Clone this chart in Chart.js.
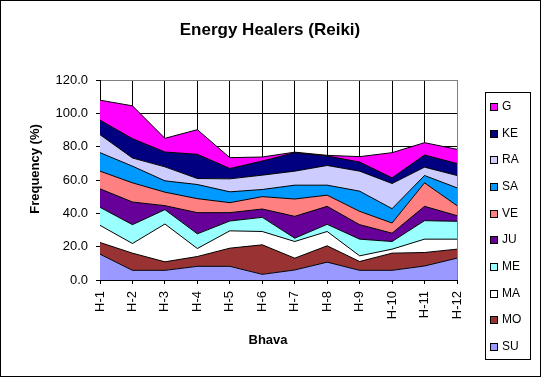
<!DOCTYPE html>
<html><head><meta charset="utf-8">
<script src="https://cdn.jsdelivr.net/npm/chart.js@4/dist/chart.umd.min.js"></script>
<style>html,body{margin:0;padding:0;background:#fff;overflow:hidden}</style>
</head><body><canvas id="c" width="542" height="378"></canvas>
<script>
const chartTitle = 'Energy Healers (Reiki)';
const xTitle = 'Bhava';
const yTitle = 'Frequency (%)';
const categories = ['H-1','H-2','H-3','H-4','H-5','H-6','H-7','H-8','H-9','H-10','H-11','H-12'];
const seriesNames = ['SU','MO','MA','ME','JU','VE','SA','RA','KE','G'];
const SU = [15.5, 5.8, 5.8, 8.2, 8.2, 3.4, 6.0,10.7, 5.8, 5.8, 8.4,13.1];
const MO = [ 7.0,10.3, 5.1, 5.9,10.9,17.7, 7.1, 9.8, 5.3,10.3, 8.1, 5.4];
const MA = [10.3, 5.8,22.7, 4.8,10.4, 8.0,10.0, 8.6, 3.4, 2.4, 8.0, 6.0];
const ME = [10.8,11.3, 8.6, 8.8, 5.9, 8.5, 2.0, 4.3,10.0, 4.6,11.1,10.7];
const JU = [11.1,13.6, 2.4,12.7, 5.0, 5.0,13.1,10.8, 8.7, 5.0, 8.6, 3.4];
const VE = [10.6,11.5, 8.1, 8.4, 6.0, 7.4,10.4, 6.7, 8.0, 6.1,14.1, 6.0];
const SA = [11.1,10.0, 6.8, 8.5, 6.5, 4.3, 8.3, 6.0,12.1, 8.6, 4.4,10.7];
const RA = [10.8, 4.9, 8.4, 3.6, 7.8, 8.6, 8.4,11.8,12.0,15.1, 5.0, 7.4];
const KE = [ 8.7,11.6, 8.9,14.5, 6.2, 8.5,11.1, 5.7, 5.5, 3.4, 7.3, 7.2];
const G  = [12.0,19.7, 8.2,14.8, 6.5, 2.4, 0.3, 0.4, 3.2,15.1, 7.4, 8.5];
const seriesValues = [SU, MO, MA, ME, JU, VE, SA, RA, KE, G];
const seriesColors = ['#9999FF','#993333','#FFFFFF','#99FFFF','#660099','#FF8080','#0099FF','#CCCCFF','#000080','#FF00FF'];
const yMin = 0, yMax = 120, yStep = 20;

const FONT = '"Liberation Sans", Arial, sans-serif';

const datasets = seriesNames.map((n, i) => ({
  label: n,
  data: seriesValues[i],
  backgroundColor: seriesColors[i],
  borderColor: '#000',
  borderWidth: 1,
  fill: i === 0 ? 'origin' : '-1',
  pointRadius: 0,
  pointHoverRadius: 0,
  tension: 0
}));

const decor = {
  id: 'decor',
  afterDraw(chart) {
    const ctx = chart.ctx;
    ctx.save();
    ctx.strokeStyle = '#000';
    ctx.lineWidth = 1;
    ctx.strokeRect(0.5, 0.5, 540, 376);
    ctx.fillStyle = '#000';
    ctx.textAlign = 'center';
    ctx.textBaseline = 'middle';
    ctx.font = 'bold 17px ' + FONT;
    ctx.fillText(chartTitle, 270, 30);
    ctx.font = 'bold 13px ' + FONT;
    ctx.fillText(xTitle, 268, 340);
    ctx.save();
    ctx.translate(35, 169);
    ctx.rotate(-Math.PI / 2);
    ctx.fillText(yTitle, 0, 0);
    ctx.restore();
    // legend
    const lx = 485, ly = 92, lw = 45, lh = 267;
    ctx.fillStyle = '#fff';
    ctx.fillRect(lx, ly, lw, lh);
    ctx.strokeStyle = '#000';
    ctx.strokeRect(lx + 0.5, ly + 0.5, lw, lh);
    ctx.font = '12px ' + FONT;
    ctx.textAlign = 'left';
    const ds = chart.data.datasets.slice().reverse();
    ds.forEach((d, i) => {
      const cy = Math.round(107 + i * 26.67);
      ctx.fillStyle = d.backgroundColor;
      ctx.fillRect(490, cy - 4, 7, 7);
      ctx.strokeStyle = '#000';
      ctx.strokeRect(490.5, cy - 3.5, 7, 7);
      ctx.fillStyle = '#000';
      ctx.fillText(d.label, 502, cy);
    });
    ctx.restore();
  }
};

new Chart(document.getElementById('c'), {
  type: 'line',
  data: { labels: categories, datasets },
  options: {
    responsive: false,
    animation: false,
    events: [],
    layout: { padding: { left: 0, top: 80, right: 85, bottom: 0 } },
    plugins: { legend: { display: false }, title: { display: false }, tooltip: { enabled: false } },
    scales: {
      x: {
        type: 'category',
        offset: false,
        grid: {
          color: (c) => (c.index === categories.length - 1 ? '#808080' : '#000'),
          tickColor: '#000',
          tickLength: 4,
          lineWidth: 1
        },
        border: { display: true, color: '#000', width: 1 },
        ticks: { color: '#000', font: { family: FONT, size: 13 }, autoSkip: false, maxRotation: 90, minRotation: 90, padding: 7 },
        afterFit(s) { s.height = 98; }
      },
      y: {
        stacked: true,
        min: yMin, max: yMax,
        grid: {
          color: (c) => (c.tick && c.tick.value === yMax ? '#808080' : '#000'),
          tickColor: '#000',
          tickLength: 4,
          lineWidth: 1
        },
        border: { display: true, color: '#000', width: 1 },
        ticks: { stepSize: yStep, color: '#000', font: { family: FONT, size: 13 }, padding: 8, callback: (v) => Number(v).toFixed(1) },
        afterFit(s) { s.width = 100; }
      }
    }
  },
  plugins: [decor]
});
</script></body></html>
